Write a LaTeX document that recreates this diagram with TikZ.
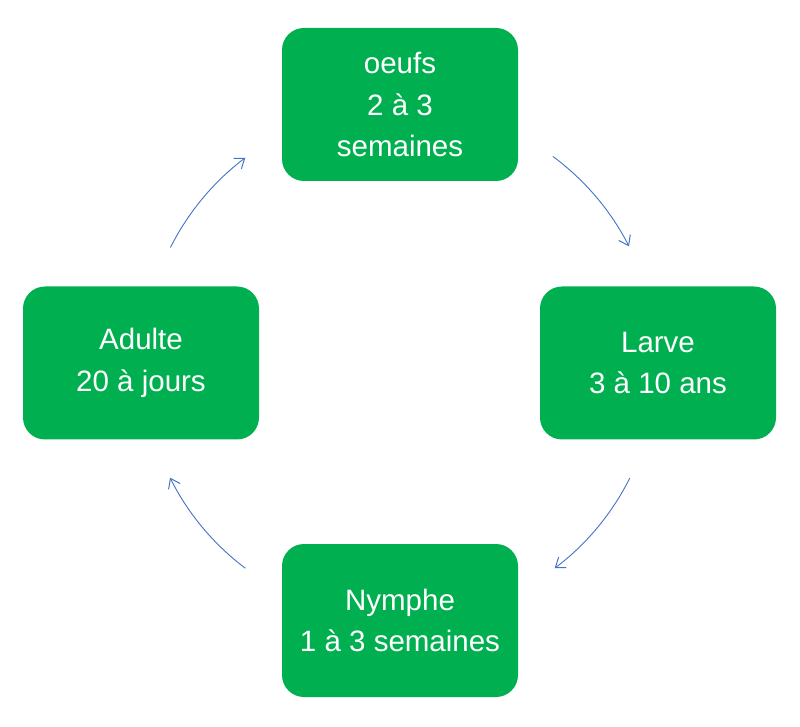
\documentclass[tikz,border=0pt]{standalone}
\usepackage{fontspec}
\setmainfont{Liberation Sans}
\usetikzlibrary{arrows.meta}
\definecolor{boxgreen}{HTML}{00B050}
\definecolor{arrblue}{HTML}{4472C4}
\tikzset{
  stage/.style={fill=boxgreen, draw=none, rounded corners=22pt, minimum width=236pt, minimum height=153pt,
    align=center, text=white, font=\fontsize{29.5}{41.5}\selectfont, inner sep=0pt},
  cyc/.style={draw=arrblue, line width=0.9pt, -{Straight Barb[length=9pt,width=13pt,line width=1pt]}}
}
\begin{document}
\begin{tikzpicture}[x=1pt,y=1pt]
\useasboundingbox (0,0) rectangle (800,726);
\node[stage] (egg) at (400,621.5) {oeufs\\2 à 3\\semaines};
\node[stage] (larva) at (658,363) {Larve\\3 à 10 ans};
\node[stage] (nymph) at (400,105.5) {Nymphe\\1 à 3 semaines};
\node[stage] (adult) at (141,363) {Adulte\\20 à jours};
\coordinate (c) at (400,363);
\draw[cyc] ([shift={(53.5:257)}]c) coordinate (a1) arc[start angle=53.5, end angle=27, radius=257];
\draw[cyc] ([shift={(-26.6:257)}]c) coordinate (a2) arc[start angle=-26.6, end angle=-53, radius=257];
\draw[cyc] ([shift={(233:257)}]c) coordinate (a3) arc[start angle=233, end angle=206.5, radius=257];
\draw[cyc] ([shift={(153.3:257)}]c) coordinate (a4) arc[start angle=153.3, end angle=127, radius=257];
\end{tikzpicture}
\end{document}
